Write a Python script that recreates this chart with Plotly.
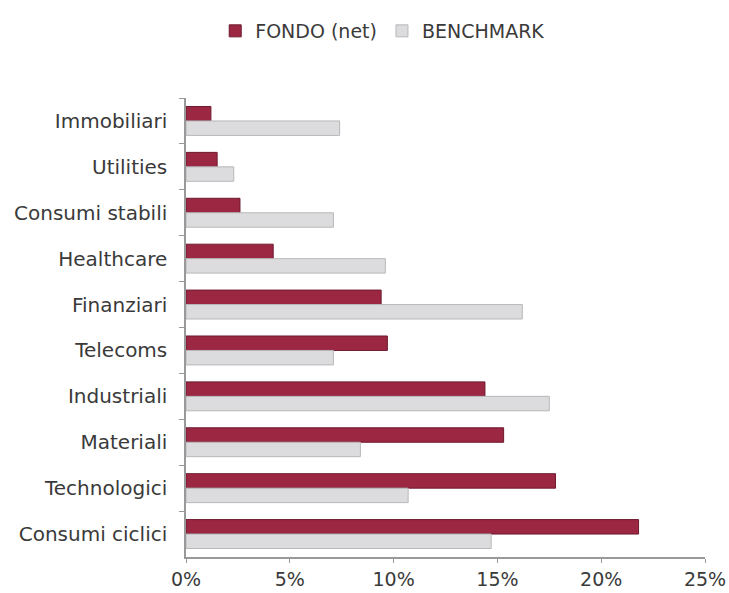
import plotly.graph_objects as go

categories = ["Immobiliari", "Utilities", "Consumi stabili", "Healthcare", "Finanziari",
              "Telecoms", "Industriali", "Materiali", "Technologici", "Consumi ciclici"]
fondo = [1.2, 1.5, 2.6, 4.2, 9.4, 9.7, 14.4, 15.3, 17.8, 21.8]
benchmark = [7.4, 2.3, 7.1, 9.6, 16.2, 7.1, 17.5, 8.4, 10.7, 14.7]
x_ticks = [0, 5, 10, 15, 20, 25]
x_labels = ["0%", "5%", "10%", "15%", "20%", "25%"]

FONT = "'DejaVu Sans', sans-serif"
TXT = "#3a3a3a"

fig = go.Figure()
fig.add_trace(go.Bar(
    y=categories, x=fondo, orientation="h", name="FONDO (net)",
    marker=dict(color="#9C2743", line=dict(color="#6E1A2E", width=1)),
))
fig.add_trace(go.Bar(
    y=categories, x=benchmark, orientation="h", name="BENCHMARK",
    marker=dict(color="#DCDCDE", line=dict(color="#B8B8BA", width=1)),
))

fig.update_layout(
    width=729, height=593,
    paper_bgcolor="white", plot_bgcolor="white",
    barmode="group", bargap=0.37, bargroupgap=0.0,
    margin=dict(l=186, r=24, t=98, b=36),
    font=dict(family=FONT, color=TXT, size=20),
    showlegend=True,
    legend=dict(orientation="h", x=0.525, xref="container", xanchor="center",
                y=1 - 31 / 593, yref="container", yanchor="middle",
                font=dict(size=19, family=FONT, color=TXT),
                itemwidth=30, traceorder="normal"),
    xaxis=dict(range=[0, 25], tickvals=x_ticks, ticktext=x_labels, automargin=False,
               showgrid=False, zeroline=False, showline=True, linecolor="#999999",
               linewidth=2, ticks="outside", tickcolor="#999999", ticklen=4,
               tickfont=dict(size=19)),
    yaxis=dict(autorange="reversed", showgrid=False, showline=True, automargin=False,
               linecolor="#999999", linewidth=2, ticks="outside", tickcolor="#999999",
               ticklen=5, tickson="boundaries", tickfont=dict(size=20), ticksuffix="  "),
)

fig.write_html("out.html", config={"displayModeBar": False},
               post_script="document.body.style.margin='0';")
